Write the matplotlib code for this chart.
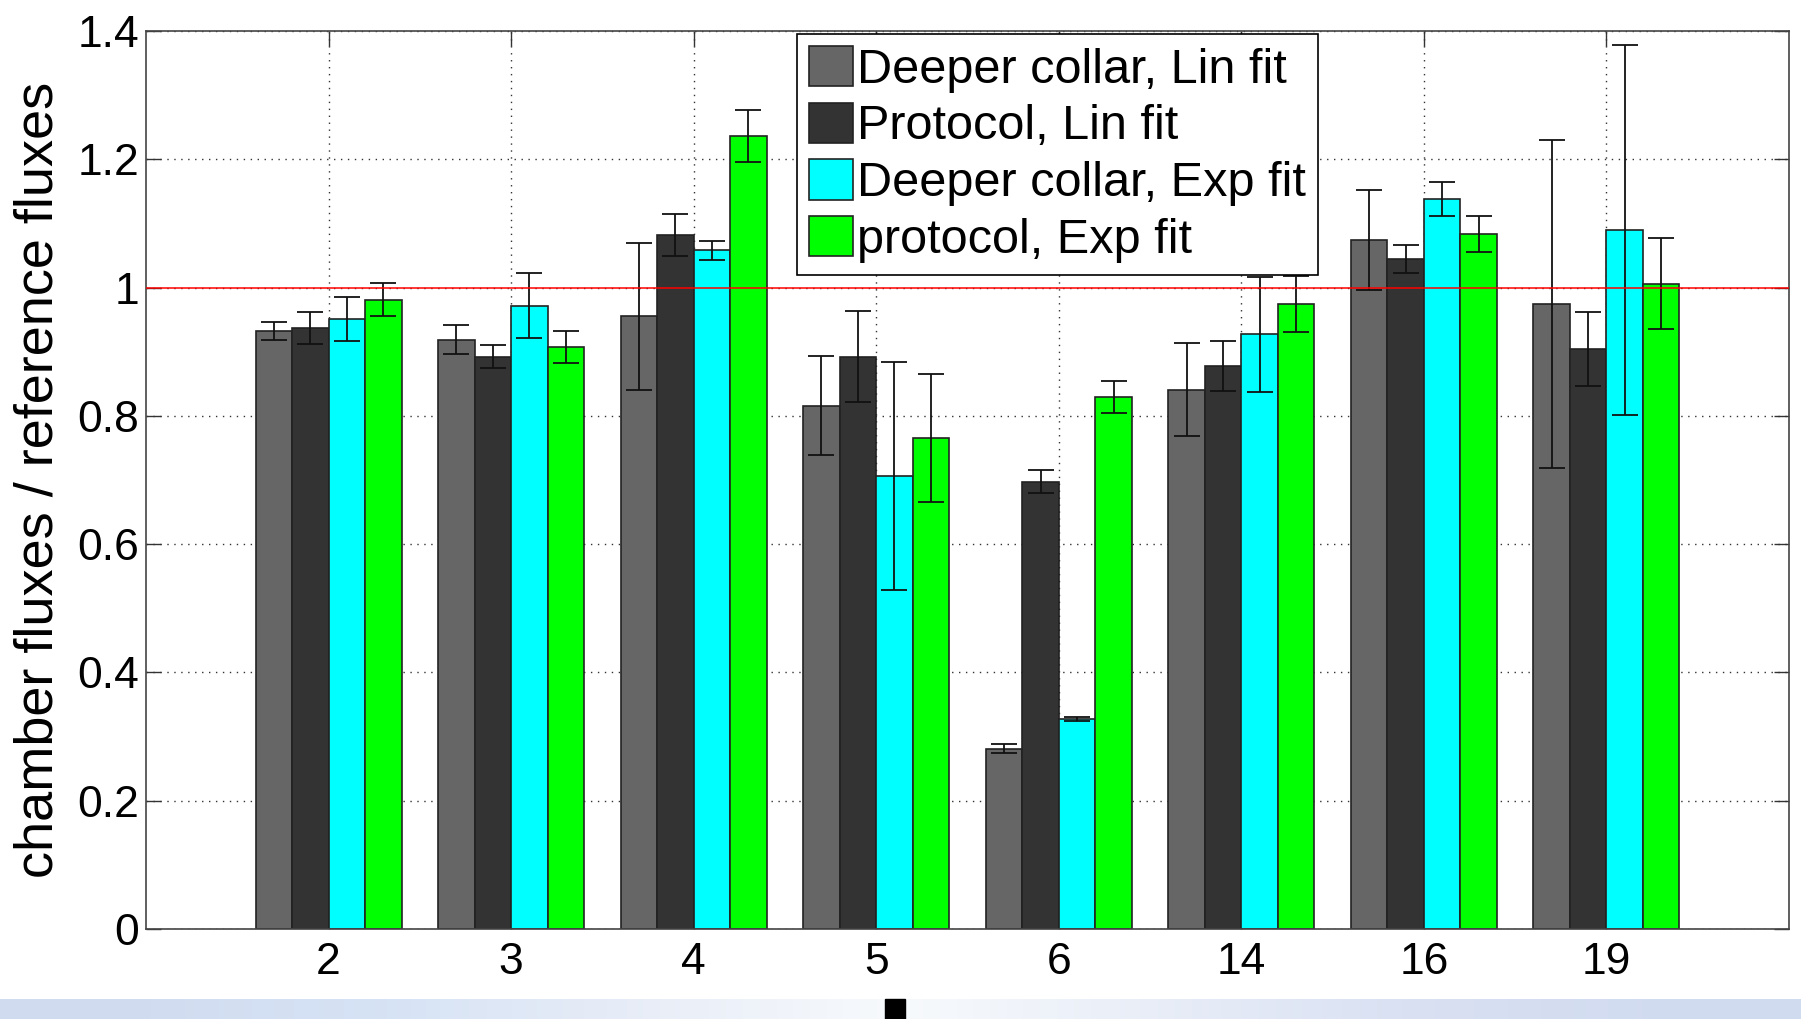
import numpy as np
import matplotlib
matplotlib.use("Agg")
import matplotlib.pyplot as plt
from matplotlib.patches import Rectangle

plt.rcParams['font.family'] = ['Liberation Sans', 'DejaVu Sans']

# chamber numbers on the x axis
chambers = ["2", "3", "4", "5", "6", "14", "16", "19"]

# ratio chamber flux / reference flux, with error half-widths
deeper_lin = [0.932, 0.919, 0.955, 0.816, 0.281, 0.841, 1.074, 0.974]
deeper_lin_err = [0.014, 0.023, 0.115, 0.077, 0.007, 0.072, 0.078, 0.256]
protocol_lin = [0.937, 0.892, 1.082, 0.892, 0.697, 0.878, 1.045, 0.904]
protocol_lin_err = [0.025, 0.018, 0.032, 0.071, 0.018, 0.039, 0.022, 0.058]
deeper_exp = [0.951, 0.972, 1.058, 0.706, 0.328, 0.927, 1.138, 1.090]
deeper_exp_err = [0.034, 0.050, 0.015, 0.178, 0.003, 0.090, 0.026, 0.288]
protocol_exp = [0.981, 0.908, 1.236, 0.765, 0.830, 0.974, 1.084, 1.006]
protocol_exp_err = [0.026, 0.025, 0.041, 0.100, 0.025, 0.044, 0.028, 0.071]

labels = ["Deeper collar, Lin fit", "Protocol, Lin fit",
          "Deeper collar, Exp fit", "protocol, Exp fit"]
colors = ["#666666", "#333333", "#00ffff", "#00ff00"]

series = [deeper_lin, protocol_lin, deeper_exp, protocol_exp]
errors = [deeper_lin_err, protocol_lin_err, deeper_exp_err, protocol_exp_err]

fig = plt.figure(figsize=(18.01, 10.19), dpi=100)
ax = fig.add_axes([146 / 1801, 90 / 1019, 1643 / 1801, 898 / 1019])

x = np.arange(1, len(chambers) + 1)
w = 0.2
for i, (vals, err) in enumerate(zip(series, errors)):
    xs = x + (i - 1.5) * w
    ax.bar(xs, vals, width=w, color=colors[i], edgecolor="#222222",
           linewidth=1.2, label=labels[i], zorder=2)
    ax.errorbar(xs, vals, yerr=err, fmt="none", ecolor="#111111",
                elinewidth=1.3, capsize=9.7, capthick=1.3, zorder=3)

ax.axhline(1.0, color="red", linewidth=1.1, zorder=4)

ax.set_xlim(0, 9)
ax.set_ylim(0, 1.4)
ax.set_xticks(x)
ax.set_xticklabels(chambers)
ax.set_yticks(np.arange(0, 1.41, 0.2))
ax.set_yticklabels(["0", "0.2", "0.4", "0.6", "0.8", "1", "1.2", "1.4"])
ax.tick_params(axis="both", direction="in", length=11, width=1,
               labelsize=32, top=True, right=True, color="#333333")
ax.tick_params(axis="x", pad=9)
ax.tick_params(axis="y", pad=5)

ax.set_axisbelow(True)
ax.grid(True, linestyle=(0, (1, 4)), color="#333333", linewidth=1)

for sp in ax.spines.values():
    sp.set_color("#444444")
    sp.set_linewidth(1.2)

ax.set_ylabel("chamber fluxes / reference fluxes", fontsize=39)
ax.yaxis.set_label_coords(-0.05, 0.5)

leg = ax.legend(loc="upper left", bbox_to_anchor=(0.396, 0.997), fontsize=35,
                handlelength=0.9, handleheight=0.9, handletextpad=0.1,
                labelspacing=0.2, borderpad=0.25, borderaxespad=0,
                fancybox=False, framealpha=1)
leg.get_frame().set_edgecolor("black")
leg.get_frame().set_linewidth(1.2)

# slide background strip at the bottom
strip = fig.add_axes([0, 0, 1, 20 / 1019])
grad_cols = np.array([[0.82, 0.86, 0.94], [0.84, 0.89, 0.96], [0.91, 0.93, 0.97],
                      [0.97, 0.98, 0.99], [0.91, 0.93, 0.97], [0.85, 0.88, 0.95],
                      [0.82, 0.86, 0.94]])
strip.imshow(grad_cols[np.newaxis, :, :], aspect="auto", interpolation="bilinear",
             extent=(0, 1, 0, 1))
strip.set_axis_off()
fig.patches.append(Rectangle((885 / 1801, 0), 20 / 1801, 20 / 1019,
                             transform=fig.transFigure, color="black"))

fig.savefig("out.png", dpi=100)
